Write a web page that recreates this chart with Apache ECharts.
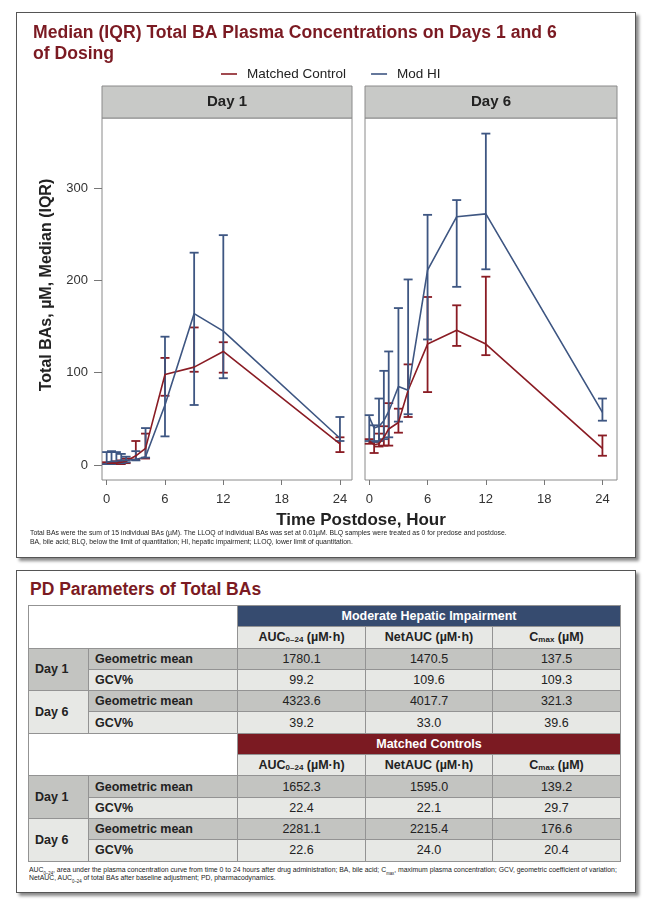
<!DOCTYPE html>
<html>
<head>
<meta charset="utf-8">
<script src="https://cdn.jsdelivr.net/npm/echarts@6/dist/echarts.min.js"></script>
<style>
  body { margin: 0; width: 662px; height: 903px; position: relative; background: #fff;
         font-family: "Liberation Sans", Arial, sans-serif; overflow: hidden; }
  .box { position: absolute; border: 1px solid #555; background: #fff; box-shadow: 3px 3px 3px #8a8a8a; }
  #box1 { left: 16px; top: 12px; width: 618px; height: 544px; }
  #box2 { left: 16px; top: 570px; width: 618px; height: 321px; }
  #main { position: absolute; left: 0; top: 0; width: 662px; height: 565px; }
  #pdTitle { position: absolute; left: 30px; top: 579px; font-size: 17.5px; line-height: 20px;
             font-weight: bold; color: #7b1a22; }
  #pd { position: absolute; left: 28px; top: 605px; width: 592px; border-collapse: collapse;
        table-layout: fixed; font-size: 12.5px; color: #222; }
  #pd td { border: 1px solid #939393; padding: 0; height: 20.3px; text-align: center; vertical-align: middle; }
  #pd td.lab { text-align: left; padding-left: 6px; font-weight: bold; }
  #pd td.grp { color: #fff; font-weight: bold; }
  #pd td.sub { background: #e7e8e5; font-weight: bold; }
  #pd td.dk { background: #c3c4c1; }
  #pd td.lt { background: #e7e8e5; }
  #pd sub { font-size: 8px; vertical-align: -1px; line-height: 0; }
  #pdNote { position: absolute; left: 29px; top: 866px; font-size: 8px; line-height: 7.5px; color: #222;
            white-space: nowrap; transform-origin: 0 0; }
  #pdNote sub { font-size: 5px; line-height: 0; }
</style>
</head>
<body>
<div class="box" id="box1"></div>
<div class="box" id="box2"></div>
<div id="main"></div>
<div id="pdTitle">PD Parameters of Total BAs</div>
<table id="pd"></table>
<div id="pdNote">AUC<sub>0–24</sub>, area under the plasma concentration curve from time 0 to 24 hours after drug administration; BA, bile acid; C<sub>max</sub>, maximum plasma concentration; GCV, geometric coefficient of variation;<br>NetAUC, AUC<sub>0–24</sub> of total BAs after baseline adjustment; PD, pharmacodynamics.</div>
<script>
// time points (h)
var times = [0, 0.5, 1, 1.5, 2, 3, 4, 6, 9, 12, 24];
var xTicks = [0, 6, 12, 18, 24];
var yTicks = [0, 100, 200, 300];

// Day 1
var d1McMedian = [2, 2, 2, 3, 4, 10, 18, 98, 106, 123, 23];
var d1McQ1 = [1, 1, 1, 1, 2, 6, 7, 75, 101, 100, 14];
var d1McQ3 = [3, 3, 4, 5, 7, 26, 34, 116, 149, 133, 30];
var d1HiMedian = [3, 4, 4, 5, 5, 6, 9, 65, 164, 145, 29];
var d1HiQ1 = [1, 1, 2, 2, 3, 5, 8, 31, 65, 94, 26];
var d1HiQ3 = [14, 15, 14, 12, 9, 15, 40, 139, 230, 249, 52];

// Day 6
var d6McMedian = [26, 22, 23, 30, 39, 46, 81, 131, 146, 131, 18];
var d6McQ1 = [23, 13, 20, 21, 21, 35, 52, 79, 129, 119, 10];
var d6McQ3 = [28, 25, 34, 42, 67, 61, 109, 182, 173, 204, 32];
var d6HiMedian = [52, 40, 42, 48, 58, 85, 81, 211, 269, 272, 57];
var d6HiQ1 = [26, 25, 26, 28, 30, 47, 55, 136, 193, 212, 48];
var d6HiQ3 = [54, 43, 72, 102, 123, 170, 201, 271, 287, 359, 72];

// PD table
var pdGroups = ['Moderate Hepatic Impairment', 'Matched Controls'];
var pdColumns = ['AUC<sub>0–24</sub> (µM·h)', 'NetAUC (µM·h)', 'C<sub>max</sub> (µM)'];
var pdDays = ['Day 1', 'Day 6'];
var pdStats = ['Geometric mean', 'GCV%'];
var hiValues = [
  [['1780.1', '1470.5', '137.5'], ['99.2', '109.6', '109.3']],
  [['4323.6', '4017.7', '321.3'], ['39.2', '33.0', '39.6']]
];
var mcValues = [
  [['1652.3', '1595.0', '139.2'], ['22.4', '22.1', '29.7']],
  [['2281.1', '2215.4', '176.6'], ['22.6', '24.0', '20.4']]
];

var RED = '#8a1c24';
var BLUE = '#3e5682';
var FONT = '"Liberation Sans", Arial, sans-serif';

// table
var groupColors = ['#364b6f', '#7b1a22'];
var html = '<colgroup><col style="width:60px"><col style="width:149px"><col style="width:128px"><col style="width:127px"><col style="width:128px"></colgroup>';
[hiValues, mcValues].forEach(function (vals, g) {
  html += '<tr><td colspan="2" rowspan="2" style="background:#fff"></td><td colspan="3" class="grp" style="background:' + groupColors[g] + '">' + pdGroups[g] + '</td></tr>';
  html += '<tr>' + pdColumns.map(function (c) { return '<td class="sub">' + c + '</td>'; }).join('') + '</tr>';
  pdDays.forEach(function (day, d) {
    pdStats.forEach(function (st, s) {
      var cls = s === 0 ? 'dk' : 'lt';
      html += '<tr>';
      if (s === 0) html += '<td rowspan="2" class="lab ' + (d === 0 ? 'dk' : 'lt') + '">' + day + '</td>';
      html += '<td class="lab ' + cls + '">' + st + '</td>';
      html += vals[d][s].map(function (v) { return '<td class="' + cls + '">' + v + '</td>'; }).join('');
      html += '</tr>';
    });
  });
});
document.getElementById('pd').innerHTML = html;

// squeeze the table footnote to the narrow width it has in the poster
var note = document.getElementById('pdNote');
note.style.transform = 'scaleX(' + (588 / note.scrollWidth) + ')';

// chart
function pts(m) { return times.map(function (t, i) { return [t, m[i]]; }); }
function bars(q1, q3) { return times.map(function (t, i) { return [t, q1[i], q3[i]]; }); }

function errorBar(params, api) {
  var x = api.value(0);
  var lo = api.coord([x, api.value(1)]);
  var hi = api.coord([x, api.value(2)]);
  var hw = 4.5;
  var style = { stroke: api.visual('color'), lineWidth: 1.8 };
  return {
    type: 'group',
    children: [
      { type: 'line', shape: { x1: lo[0], y1: lo[1], x2: hi[0], y2: hi[1] }, style: style },
      { type: 'line', shape: { x1: lo[0] - hw, y1: lo[1], x2: lo[0] + hw, y2: lo[1] }, style: style },
      { type: 'line', shape: { x1: hi[0] - hw, y1: hi[1], x2: hi[0] + hw, y2: hi[1] }, style: style }
    ]
  };
}

function xAxisFor(gi, min, max) {
  return {
    type: 'value', gridIndex: gi, min: min, max: max,
    axisLine: { show: false, onZero: false }, splitLine: { show: false },
    axisTick: { show: true, length: 5, lineStyle: { color: '#777' }, customValues: xTicks },
    axisLabel: { color: '#333', fontSize: 13, margin: 13, fontFamily: FONT, customValues: xTicks }
  };
}

function seriesFor(gi, mcQ1, mcQ3, mcMed, hiQ1, hiQ3, hiMed) {
  return [
    { type: 'custom', name: 'Matched Control', xAxisIndex: gi, yAxisIndex: gi, renderItem: errorBar,
      itemStyle: { color: RED }, encode: { x: 0, y: [1, 2] }, data: bars(mcQ1, mcQ3), z: 2 },
    { type: 'custom', name: 'Mod HI', xAxisIndex: gi, yAxisIndex: gi, renderItem: errorBar,
      itemStyle: { color: BLUE }, encode: { x: 0, y: [1, 2] }, data: bars(hiQ1, hiQ3), z: 2 },
    { type: 'line', name: 'Matched Control', xAxisIndex: gi, yAxisIndex: gi, data: pts(mcMed),
      symbol: 'none', lineStyle: { color: RED, width: 1.6 }, itemStyle: { color: RED }, z: 3 },
    { type: 'line', name: 'Mod HI', xAxisIndex: gi, yAxisIndex: gi, data: pts(hiMed),
      symbol: 'none', lineStyle: { color: BLUE, width: 1.6 }, itemStyle: { color: BLUE }, z: 3 }
  ];
}

function panelHeader(x, w, label) {
  return [
    { type: 'rect', shape: { x: x, y: 86, width: w, height: 32 },
      style: { fill: '#c8c9c7', stroke: '#8a8a8a', lineWidth: 1 } },
    { type: 'text', x: x + w / 2, y: 102,
      style: { text: label, fill: '#222', font: 'bold 15px ' + FONT, textAlign: 'center', textVerticalAlign: 'middle' } }
  ];
}

function footText(y, text) {
  return { type: 'text', x: 30, y: y, scaleX: 0.855,
    style: { text: text, fill: '#222', font: '8px ' + FONT, textVerticalAlign: 'middle' } };
}

var chart = echarts.init(document.getElementById('main'));
chart.setOption({
  animation: false,
  title: {
    text: 'Median (IQR) Total BA Plasma Concentrations on Days 1 and 6\nof Dosing',
    left: 28, top: 18,
    textStyle: { color: '#7b1a22', fontSize: 17.6, fontWeight: 'bold', lineHeight: 21, fontFamily: FONT }
  },
  legend: {
    data: [{ name: 'Matched Control', icon: 'rect' }, { name: 'Mod HI', icon: 'rect' }],
    left: 216, top: 62, itemWidth: 16, itemHeight: 1.6, itemGap: 25, selectedMode: false,
    textStyle: { fontSize: 13.5, color: '#222', fontFamily: FONT, padding: [0, 0, 0, 5] }
  },
  grid: [
    { left: 102, top: 118, width: 250, height: 362, show: true, borderColor: '#8a8a8a', borderWidth: 1 },
    { left: 365, top: 118, width: 252, height: 362, show: true, borderColor: '#8a8a8a', borderWidth: 1 }
  ],
  xAxis: [xAxisFor(0, -0.48, 25.24), xAxisFor(1, -0.44, 25.5)],
  yAxis: [
    { type: 'value', gridIndex: 0, min: -16.25, max: 375.9, splitLine: { show: false },
      axisLine: { show: false, onZero: false },
      axisTick: { show: true, length: 8, lineStyle: { color: '#777' }, customValues: yTicks },
      axisLabel: { color: '#333', fontSize: 13, margin: 14, fontFamily: FONT, customValues: yTicks } },
    { type: 'value', gridIndex: 1, min: -16.25, max: 375.9, splitLine: { show: false },
      axisLine: { show: false, onZero: false }, axisTick: { show: false }, axisLabel: { show: false } }
  ],
  graphic: panelHeader(102, 250, 'Day 1').concat(panelHeader(365, 252, 'Day 6')).concat([
    { type: 'text', x: 47, y: 285, rotation: Math.PI / 2,
      style: { text: 'Total BAs, µM, Median (IQR)', fill: '#222', font: 'bold 16px ' + FONT,
               textAlign: 'center', textVerticalAlign: 'middle' } },
    { type: 'text', x: 361, y: 520,
      style: { text: 'Time Postdose, Hour', fill: '#222', font: 'bold 17px ' + FONT,
               textAlign: 'center', textVerticalAlign: 'middle' } },
    footText(533, 'Total BAs were the sum of 15 individual BAs (µM). The LLOQ of individual BAs was set at 0.01µM. BLQ samples were treated as 0 for predose and postdose.'),
    footText(541.5, 'BA, bile acid; BLQ, below the limit of quantitation; HI, hepatic impairment; LLOQ, lower limit of quantitation.')
  ]),
  series: seriesFor(0, d1McQ1, d1McQ3, d1McMedian, d1HiQ1, d1HiQ3, d1HiMedian)
    .concat(seriesFor(1, d6McQ1, d6McQ3, d6McMedian, d6HiQ1, d6HiQ3, d6HiMedian))
});
</script>
</body>
</html>
